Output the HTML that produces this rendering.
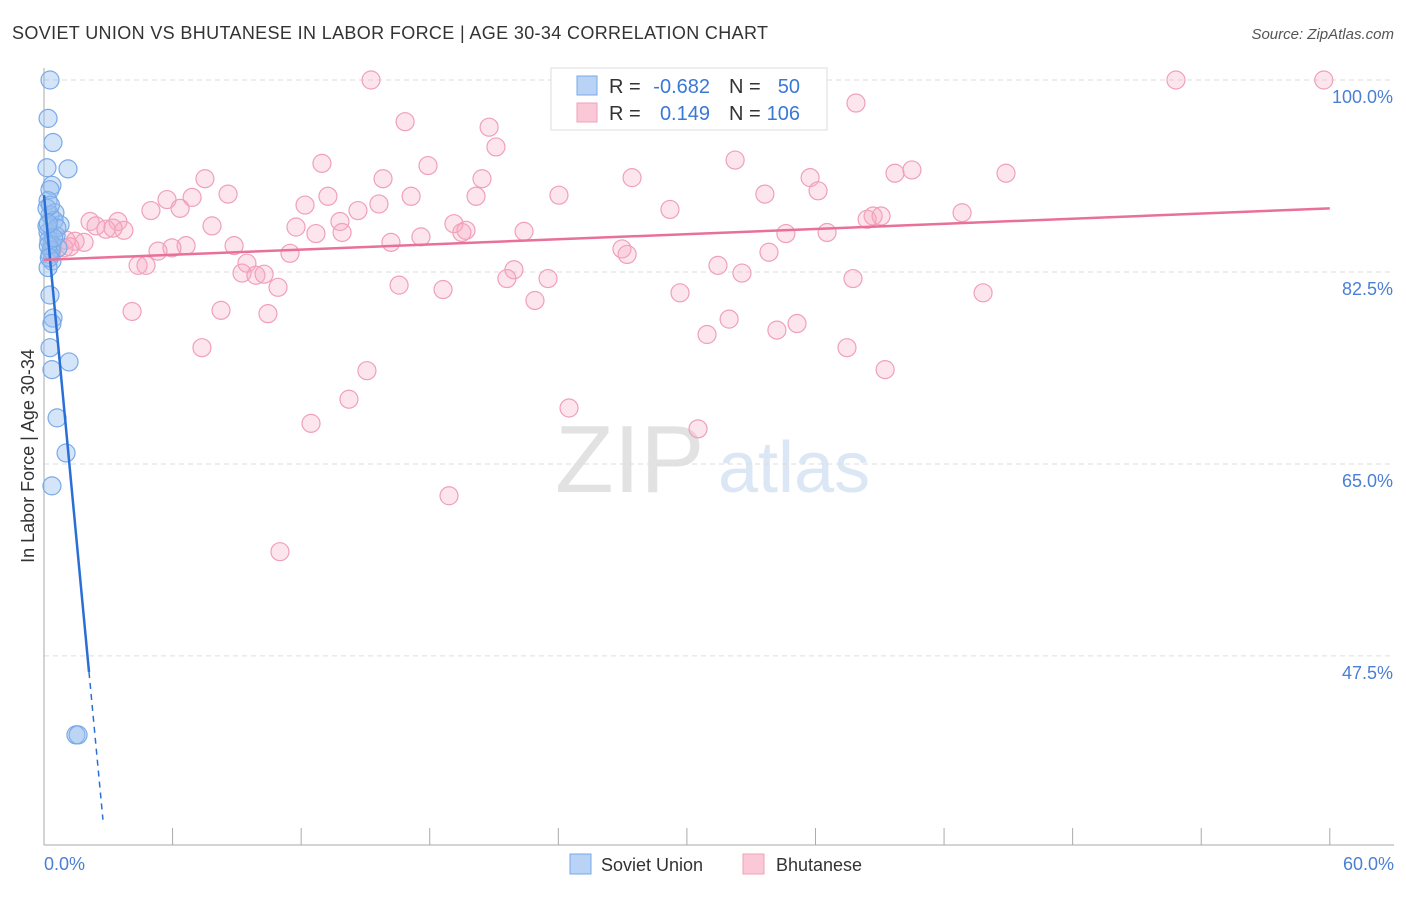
<!DOCTYPE html>
<html><head><meta charset="utf-8"><style>
body{margin:0;background:#fff;font-family:"Liberation Sans",sans-serif}
svg text{font-family:"Liberation Sans",sans-serif}
</style></head><body>
<svg id="chart" width="1406" height="892" xmlns="http://www.w3.org/2000/svg">
<text x="12" y="39" font-size="18" fill="#333" textLength="756">SOVIET UNION VS BHUTANESE IN LABOR FORCE | AGE 30-34 CORRELATION CHART</text>
<text x="1394" y="39" font-size="15" fill="#555" font-style="italic" text-anchor="end">Source: ZipAtlas.com</text>
<text x="555" y="492" font-size="96" fill="#e2e2e2" font-family="Liberation Serif">ZIP</text>
<text x="718" y="492" font-size="72" fill="#dce7f6">atlas</text>
<g id="grid"></g><g id="axes"></g><g id="pts"></g><g id="lines"></g>
<text transform="translate(34,456) rotate(-90)" font-size="18" fill="#333" text-anchor="middle">In Labor Force | Age 30-34</text>
<text x="44" y="870" font-size="18" fill="#4a7fd4">0.0%</text>
<text x="1394" y="870" font-size="18" fill="#4a7fd4" text-anchor="end">60.0%</text>
<g>
<rect x="551" y="68" width="276" height="62" fill="#fff" stroke="#ddd"/>
<rect x="577" y="76" width="20" height="19" fill="#b8d3f5" stroke="#7aaae8"/>
<rect x="577" y="103" width="20" height="19" fill="#fbc8d8" stroke="#f0a0b8"/>
<text x="609" y="93" font-size="20" fill="#333">R =</text>
<text x="710" y="93" font-size="20" fill="#3a78d8" text-anchor="end">-0.682</text>
<text x="729" y="93" font-size="20" fill="#333">N =</text>
<text x="800" y="93" font-size="20" fill="#3a78d8" text-anchor="end">50</text>
<text x="609" y="120" font-size="20" fill="#333">R =</text>
<text x="710" y="120" font-size="20" fill="#3a78d8" text-anchor="end">0.149</text>
<text x="729" y="120" font-size="20" fill="#333">N =</text>
<text x="800" y="120" font-size="20" fill="#3a78d8" text-anchor="end">106</text>
</g>
<g>
<rect x="570" y="854" width="21" height="20" fill="#b8d3f5" stroke="#7aaae8"/>
<text x="601" y="871" font-size="18" fill="#333">Soviet Union</text>
<rect x="743" y="854" width="21" height="20" fill="#fbc8d8" stroke="#f0a0b8"/>
<text x="776" y="871" font-size="18" fill="#333">Bhutanese</text>
</g>
</svg>
<script>
const yTicks=[100,82.5,65,47.5];
const yTickLabels=["100.0%","82.5%","65.0%","47.5%"];
const xTicks=[0,6,12,18,24,30,36,42,48,54,60];
const sovietX=[0.28,0.19,0.42,0.14,1.12,0.37,0.28,0.19,0.51,0.28,0.75,0.19,0.56,0.37,0.65,0.28,0.37,0.19,0.28,0.42,0.37,0.28,1.17,0.37,0.61,1.03,0.37,1.49,1.59,0.14,0.14,0.23,0.33,0.47,0.2,0.6,0.3,0.25,0.45,0.2];
const sovietY=[100,96.5,94.3,92,91.9,90.4,90,89,87.9,87.7,86.8,86.1,85.8,85,84.7,84.1,83.5,82.9,80.4,78.3,77.8,75.6,74.3,73.6,69.2,66,63,40.3,40.3,88.3,86.7,85.4,84.5,87.2,84.9,86.5,88.6,83.8,85.6,86.9];
const bhutX=[15.26,27.67,52.82,59.72,37.89,16.85,20.77,21.09,12.97,17.92,32.25,40.5,39.71,44.89,7.51,15.82,20.44,27.44,35.75,8.59,5.74,6.91,13.25,17.13,20.16,24.03,33.64,36.12,4.99,6.35,12.18,14.65,15.63,29.21,42.84,38.69,2.15,3.45,2.43,2.89,3.73,3.22,11.76,13.81,19.13,19.69,19.5,12.69,13.91,22.4,7.84,38.41,39.06,34.62,36.54,1.03,1.45,1.87,0.93,1.21,6.63,5.97,5.32,8.87,16.19,17.59,26.97,27.21,11.48,33.83,4.39,4.76,9.47,9.24,9.89,10.27,31.45,32.57,21.93,21.6,23.52,16.57,10.92,18.62,29.68,43.82,37.75,22.91,10.45,4.11,8.26,31.97,35.14,30.94,34.2,7.37,37.47,15.07,39.25,14.23,24.5,12.46,30.52,18.9,11.01,0.37];
const bhutY=[100,100,100,100,97.9,96.2,95.7,93.9,92.4,92.2,92.7,91.8,91.5,91.5,91,91,91,91.1,91.1,89.6,89.1,89.3,89.4,89.4,89.4,89.5,89.6,89.9,88.1,88.3,88.6,88.1,88.7,88.2,87.9,87.6,87.1,87.1,86.7,86.4,86.3,86.5,86.6,87.1,86.9,86.3,86.1,86,86.1,86.2,86.7,87.3,87.6,86,86.1,85.4,85.3,85.2,84.7,84.8,84.9,84.7,84.4,84.9,85.2,85.7,84.6,84.1,84.2,84.3,83.1,83.1,83.3,82.4,82.2,82.3,83.1,82.4,82.7,81.9,81.9,81.3,81.1,80.9,80.6,80.6,81.9,79.9,78.7,78.9,79,78.2,77.8,76.8,77.2,75.6,75.6,73.5,73.6,70.9,70.1,68.7,68.2,62.1,57,84.4];
const sovietTrend=[89.5,-20.7];
const bhutTrend=[83.6,0.0783];
const X=v=>44+v*21.43, Y=v=>80+(100-v)*10.97;
const NS="http://www.w3.org/2000/svg";
function mk(t,a,p){const e=document.createElementNS(NS,t);for(const k in a)e.setAttribute(k,a[k]);p.appendChild(e);return e;}
const grid=document.getElementById('grid'),axes=document.getElementById('axes'),pts=document.getElementById('pts'),lines=document.getElementById('lines');
yTicks.forEach((v,i)=>{
 const l=mk('line',{x1:44,x2:1394,y1:Y(v),y2:Y(v),stroke:'#ddd','stroke-dasharray':'5,4'},grid);
 
 
 const t=mk('text',{x:1393,y:Y(v)+23,'font-size':18,fill:'#4a7fd4','text-anchor':'end'},grid);
 t.textContent=yTickLabels[i];
 
 
});
const ya=mk('line',{x1:44,x2:44,y1:68,y2:845,stroke:'#aaa'},axes);


const xa=mk('line',{x1:44,x2:1394,y1:845,y2:845,stroke:'#aaa'},axes);


xTicks.forEach(v=>{const t=mk('line',{x1:X(v),x2:X(v),y1:828,y2:845,stroke:'#aaa'},axes);
 
 });
bhutX.forEach((v,i)=>{const c=mk('circle',{cx:X(v),cy:Y(bhutY[i]),r:9,fill:'rgba(248,170,195,0.3)',stroke:'#f0a0b8','stroke-width':1.2},pts);
 
 });
sovietX.forEach((v,i)=>{const c=mk('circle',{cx:X(v),cy:Y(sovietY[i]),r:9,fill:'rgba(150,190,240,0.4)',stroke:'#7aaae8','stroke-width':1.2},pts);
 
 });
const sf=x=>sovietTrend[0]+sovietTrend[1]*x, bf=x=>bhutTrend[0]+bhutTrend[1]*x;
const s1=mk('line',{x1:X(0),y1:Y(sf(0)),x2:X(2.1),y2:Y(sf(2.1)),stroke:'#2a6fd6','stroke-width':2.5},lines);


const s2=mk('line',{x1:X(2.1),y1:Y(sf(2.1)),x2:X(2.75),y2:Y(sf(2.75)),stroke:'#2a6fd6','stroke-width':1.5,'stroke-dasharray':'6,5'},lines);


const b1=mk('line',{x1:X(0),y1:Y(bf(0)),x2:X(60),y2:Y(bf(60)),stroke:'#e8709a','stroke-width':2.5},lines);


</script>
</body></html>
